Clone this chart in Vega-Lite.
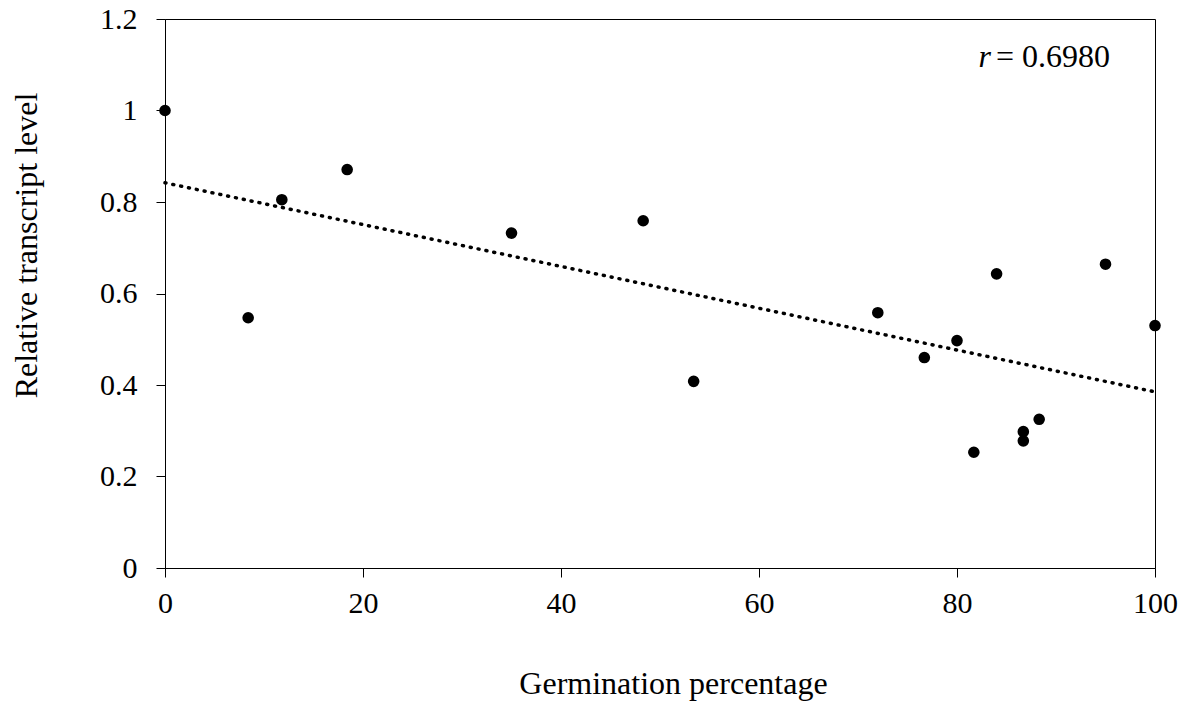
{
  "$schema": "https://vega.github.io/schema/vega-lite/v6.json",
  "autosize": "none",
  "width": 990,
  "height": 549,
  "padding": {"left": 165, "top": 19, "right": 30, "bottom": 138},
  "background": "white",
  "config": {
    "view": {"stroke": "#000", "strokeWidth": 1},
    "font": "Liberation Serif",
    "axis": {
      "grid": false,
      "domainColor": "#000",
      "tickColor": "#000",
      "tickSize": 9,
      "labelFlush": false,
      "labelFont": "Liberation Serif",
      "titleFont": "Liberation Serif",
      "labelFontSize": 30,
      "titleFontSize": 32,
      "titleFontWeight": "normal",
      "labelColor": "#000",
      "titleColor": "#000"
    }
  },
  "datasets": {
    "pts": [
      {"germ": 0, "level": 1.0},
      {"germ": 8.4, "level": 0.547},
      {"germ": 11.8, "level": 0.805},
      {"germ": 18.4, "level": 0.871},
      {"germ": 35.0, "level": 0.732},
      {"germ": 48.3, "level": 0.759},
      {"germ": 53.4, "level": 0.408},
      {"germ": 72.0, "level": 0.558},
      {"germ": 76.7, "level": 0.460},
      {"germ": 80.0, "level": 0.497},
      {"germ": 81.7, "level": 0.253},
      {"germ": 84.0, "level": 0.643},
      {"germ": 86.7, "level": 0.298},
      {"germ": 86.7, "level": 0.278},
      {"germ": 88.3, "level": 0.325},
      {"germ": 95.0, "level": 0.664},
      {"germ": 100, "level": 0.530}
    ],
    "trend": [
      {"germ": 0, "level": 0.842},
      {"germ": 100, "level": 0.385}
    ],
    "note": [
      {"germ": 83.43, "level": 1.117, "a": "r", "b": "= 0.6980"}
    ]
  },
  "layer": [
    {
      "data": {"name": "trend"},
      "mark": {"type": "line", "color": "#000", "strokeWidth": 3.5, "strokeDash": [1, 7], "strokeCap": "round"},
      "encoding": {
        "x": {
          "field": "germ", "type": "quantitative",
          "scale": {"domain": [0, 100], "nice": false},
          "axis": {"values": [0, 20, 40, 60, 80, 100], "title": "Germination percentage", "labelPadding": 11, "titlePadding": 50, "titleX": 508}
        },
        "y": {
          "field": "level", "type": "quantitative",
          "scale": {"domain": [0, 1.2], "nice": false},
          "axis": {"values": [0, 0.2, 0.4, 0.6, 0.8, 1, 1.2], "format": "~g", "title": "Relative transcript level", "labelPadding": 19, "titlePadding": 56, "titleY": 226}
        }
      }
    },
    {
      "data": {"name": "pts"},
      "mark": {"type": "point", "filled": true, "shape": "circle", "size": 135, "color": "#000", "opacity": 1},
      "encoding": {
        "x": {"field": "germ", "type": "quantitative"},
        "y": {"field": "level", "type": "quantitative"}
      }
    },
    {
      "data": {"name": "note"},
      "mark": {"type": "text", "align": "right", "baseline": "middle", "fontStyle": "italic", "fontSize": 32, "font": "Liberation Serif", "color": "#000"},
      "encoding": {
        "x": {"field": "germ", "type": "quantitative"},
        "y": {"field": "level", "type": "quantitative"},
        "text": {"field": "a"}
      }
    },
    {
      "data": {"name": "note"},
      "mark": {"type": "text", "align": "left", "baseline": "middle", "dx": 5, "fontSize": 32, "font": "Liberation Serif", "color": "#000"},
      "encoding": {
        "x": {"field": "germ", "type": "quantitative"},
        "y": {"field": "level", "type": "quantitative"},
        "text": {"field": "b"}
      }
    }
  ]
}
